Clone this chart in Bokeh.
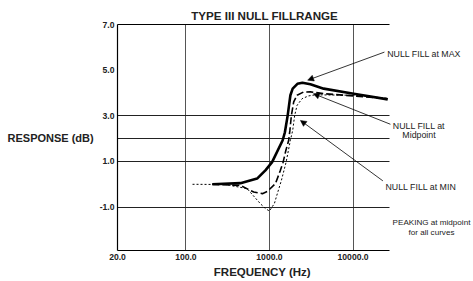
from bokeh.plotting import figure
from bokeh.models import (FixedTicker, NumeralTickFormatter, LinearAxis, Label,
                          Arrow, NormalHead, Range1d, Title)
from bokeh.embed import file_html
from bokeh.resources import INLINE

# ---- data ----
freq_max = [207, 449, 711, 893, 1074, 1438, 1528, 1651, 1778, 1894, 2157, 2475, 3085, 4450, 10170, 25940]
resp_max = [0.0, 0.05, 0.25, 0.61, 0.97, 1.93, 2.28, 3.02, 3.90, 4.19, 4.40, 4.45, 4.38, 4.19, 3.97, 3.72]

freq_mid = [207, 449, 647, 822, 944, 1177, 1350, 1455, 1571, 1697, 1754, 1828, 1948, 2138, 2545, 3085, 4450, 10170, 25940]
resp_mid = [0.0, -0.05, -0.34, -0.41, -0.31, 0.03, 0.61, 0.97, 1.49, 1.93, 2.36, 3.02, 3.61, 3.90, 4.04, 4.05, 3.97, 3.87, 3.75]

freq_min = [120, 297, 540, 778, 893, 997, 1145, 1243, 1388, 1580, 1778, 1894, 2002, 2138, 2455, 2918, 3540, 10170, 25940]
resp_min = [0.0, -0.01, -0.19, -0.85, -1.06, -1.17, -0.84, -0.40, 0.17, 0.97, 1.93, 2.36, 3.02, 3.46, 3.75, 3.87, 3.92, 3.90, 3.77]

x_ticks = [15.2, 100, 1000, 10000]
x_tick_labels = ["20.0", "100.0", "1000.0", "10000.0"]
x_grid = [100, 1000, 10000]
y_ticks = [7, 5, 3, 1, -1]
y_grid = [3, 2, 1, -1]
x_plot_bounds = (15.2, 27200)   # visible plot box in frequency
x_view = (15.2, 275600)         # extra room on the right for the notes

FONT = "Liberation Sans"

p = figure(width=473, height=281, x_axis_type="log",
           x_range=Range1d(*x_view), y_range=Range1d(-2.9, 7.0),
           output_backend="svg", toolbar_location=None,
           min_border_left=117, min_border_right=0,
           min_border_top=24, min_border_bottom=31)
p.outline_line_color = None
p.background_fill_color = "white"

# title
p.title.text = "TYPE III NULL FILLRANGE"
p.title.align = "left"
p.title.offset = 73.7
p.title.text_font = FONT
p.title.text_font_size = "11.6px"
p.title.text_font_style = "bold"
p.title.text_color = "#222222"
p.title.standoff = 5

# axes
for ax in (p.xaxis[0], p.yaxis[0]):
    ax.major_tick_out = 0
    ax.major_tick_in = 0
    ax.minor_tick_out = 0
    ax.minor_tick_in = 0
    ax.axis_line_color = "black"
    ax.axis_line_width = 1.2
    ax.major_label_text_font = FONT
    ax.major_label_text_font_style = "bold"
    ax.major_label_text_font_size = "8.6px"
    ax.major_label_text_color = "#222222"
    ax.major_label_standoff = 3

p.xaxis.ticker = FixedTicker(ticks=x_ticks)
p.xaxis.major_label_overrides = dict(zip(x_ticks, x_tick_labels))
p.xaxis.bounds = x_plot_bounds
p.yaxis.ticker = FixedTicker(ticks=y_ticks)
p.yaxis.formatter = NumeralTickFormatter(format="0.0")
p.yaxis.axis_label = "RESPONSE (dB)"
p.yaxis.axis_label_orientation = "horizontal"
p.yaxis.axis_label_text_font = FONT
p.yaxis.axis_label_text_font_size = "11px"
p.yaxis.axis_label_text_font_style = "bold"
p.yaxis.axis_label_text_color = "#222222"
p.yaxis.axis_label_standoff = 3

top = LinearAxis(ticker=FixedTicker(ticks=[]), major_label_text_font_size="0px",
                 major_tick_out=0, minor_tick_out=0, major_tick_in=0, minor_tick_in=0,
                 axis_line_color="black", axis_line_width=1.2, bounds=x_plot_bounds)
p.add_layout(top, "above")

p.add_layout(Title(text="FREQUENCY (Hz)", align="left", offset=96.3, text_font=FONT,
                   text_font_size="11.5px", text_font_style="bold", text_color="#222222",
                   standoff=3), "below")

p.xgrid.ticker = FixedTicker(ticks=x_grid)
p.xgrid.grid_line_color = "#555555"
p.xgrid.grid_line_width = 1
p.ygrid.ticker = FixedTicker(ticks=y_grid)
p.ygrid.grid_line_color = "#222222"
p.ygrid.grid_line_width = 1
p.ygrid.cross_bounds = x_plot_bounds

# curves
p.line(freq_min, resp_min, line_color="black", line_width=1.0, line_dash="2 2")
p.line(freq_mid, resp_mid, line_color="black", line_width=1.6, line_dash="7 3")
p.line(freq_max, resp_max, line_color="black", line_width=2.6)

# notes (screen units relative to the frame: x from its left, y up from its bottom)
def lab(x, y, text, size, align="left"):
    p.add_layout(Label(x=x, y=y, x_units="screen", y_units="screen", text=text,
                       text_font=FONT, text_font_size=size,
                       text_align=align, text_baseline="middle", text_color="#222222"))

lab(269.7, 196.7, "NULL FILL at MAX", "8.8px")
lab(301.5, 125, "NULL FILL at", "8.8px", align="center")
lab(301.5, 115.7, "Midpoint", "8.8px", align="center")
lab(268, 63.3, "NULL FILL at MIN", "8.8px")
lab(314, 28.3, "PEAKING at midpoint", "8.1px", align="center")
lab(314, 18.3, "for all curves", "8.1px", align="center")

# arrows (start near the text, end on the curves)
arrow_start_f = [23700, 27950, 22720]
arrow_start_v = [5.79, 2.63, 0.15]
arrow_end_f = [2860, 3350, 2343]
arrow_end_v = [4.56, 3.97, 2.80]
for xs, ys, xe, ye in zip(arrow_start_f, arrow_start_v, arrow_end_f, arrow_end_v):
    p.add_layout(Arrow(x_start=xs, y_start=ys, x_end=xe, y_end=ye,
                       line_color="black", line_width=0.8,
                       end=NormalHead(size=6, fill_color="black", line_color="black", line_width=0.5)))

open("out.html", "w").write(file_html(p, INLINE))
